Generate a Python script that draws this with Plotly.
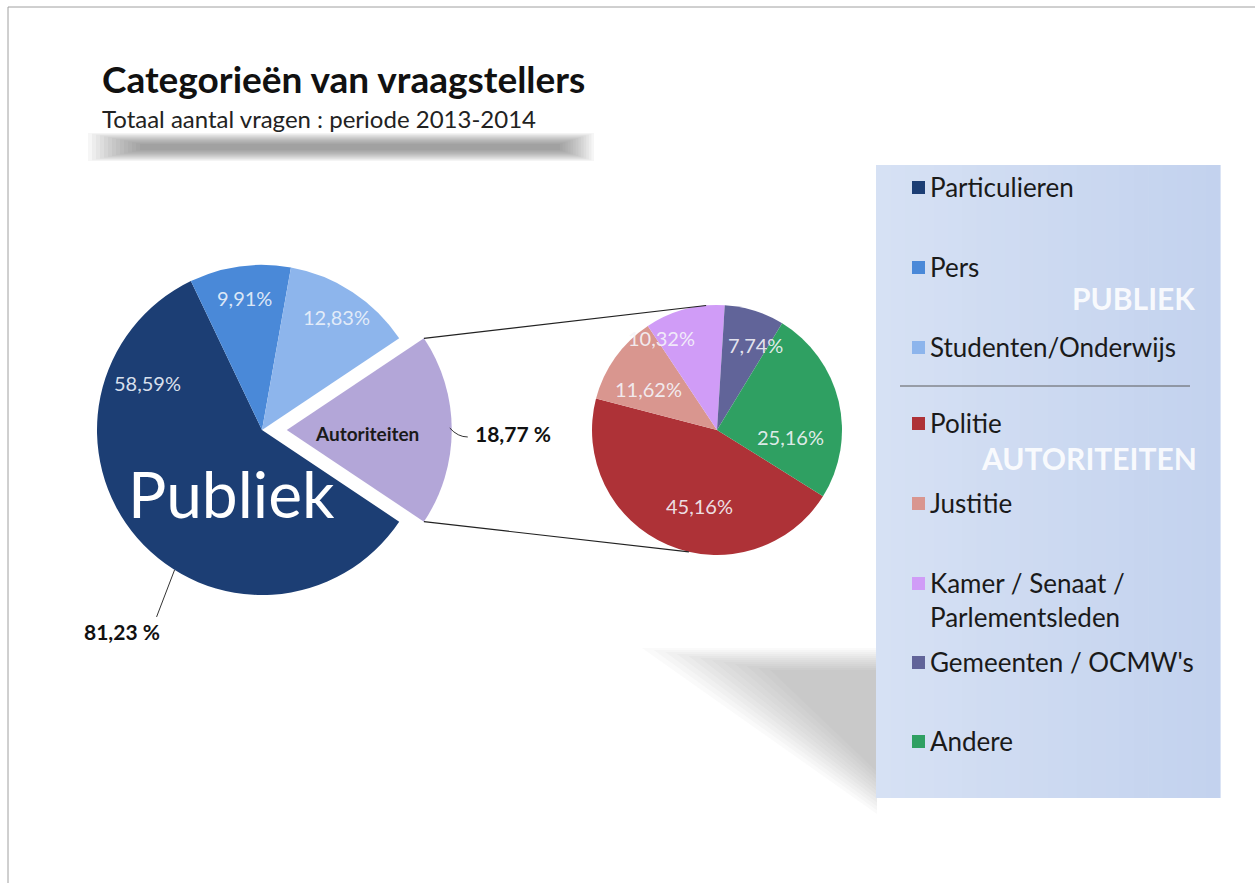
import math
import plotly.graph_objects as go

W, H = 1255, 883

# ---------------- data ----------------
main_labels = ["Particulieren", "Pers", "Studenten/Onderwijs", "Autoriteiten"]
main_values = [58.59, 9.91, 12.83, 18.77]
main_colors = ["#1C3E74", "#4A89D8", "#8DB5EC", "#B3A6D8"]

sub_labels = ["Politie", "Justitie", "Kamer / Senaat / Parlementsleden",
              "Gemeenten / OCMW's", "Andere"]
sub_values = [45.16, 11.62, 10.32, 7.74, 25.16]
sub_colors = ["#AE3237", "#D9968F", "#D09CF7", "#616499", "#2FA062"]

publiek_total = 81.23
autoriteiten_total = 18.77

title = "Categorieën van vraagstellers"
subtitle = "Totaal aantal vragen : periode 2013-2014"

legend_names = ["Particulieren", "Pers", "Studenten/Onderwijs",
                "Politie", "Justitie", "Kamer / Senaat /<br>Parlementsleden",
                "Gemeenten / OCMW's", "Andere"]
legend_colors = main_colors[:3] + sub_colors
group_names = ["PUBLIEK", "AUTORITEITEN"]

# ---------------- layout constants ----------------
FONT = "Lato, 'Open Sans', sans-serif"
L_CX, L_CY, L_R, L_PULL = 262, 430, 165, 0.15
R_CX, R_CY, R_R = 717, 430, 125


def X(px):
    return px / W


def Y(py):
    return 1 - py / H


def fmt(v, space=False):
    s = f"{v:.2f}".replace(".", ",")
    return s + (" %" if space else "%")


def domain(cx, cy, r, pull=0.0):
    half = r * (1 + pull)
    return dict(x=[X(cx - half), X(cx + half)], y=[Y(cy + half), Y(cy - half)])


def slice_angles(values, rotation):
    tot = sum(values)
    a = 90 - rotation
    out = []
    for v in values:
        b = a - v / tot * 360
        out.append((a, b))
        a = b
    return out


def pt(cx, cy, r, ang):
    return cx + r * math.cos(math.radians(ang)), cy - r * math.sin(math.radians(ang))


shapes = []
ann = []


def add_line(x0, y0, x1, y1, color, width):
    shapes.append(dict(type="line", xref="paper", yref="paper", x0=X(x0), y0=Y(y0),
                       x1=X(x1), y1=Y(y1), line=dict(color=color, width=width)))


def add_rect(x0, y0, x1, y1, color, opacity=1.0, layer="above"):
    shapes.append(dict(type="rect", xref="paper", yref="paper", x0=X(x0), y0=Y(y0),
                       x1=X(x1), y1=Y(y1), fillcolor=color, opacity=opacity,
                       line=dict(width=0), layer=layer))


def add_poly(points, color, opacity, layer="below"):
    path = "M " + " L ".join(f"{X(x):.5f} {Y(y):.5f}" for x, y in points) + " Z"
    shapes.append(dict(type="path", xref="paper", yref="paper", path=path,
                       fillcolor=color, opacity=opacity, line=dict(width=0), layer=layer))


def add_text(x, y, text, size, color, xanchor="center", bold=False, align="center"):
    ann.append(dict(xref="paper", yref="paper", x=X(x), y=Y(y),
                    text=f"<b>{text}</b>" if bold else text, showarrow=False,
                    xanchor=xanchor, yanchor="middle", align=align,
                    font=dict(family=FONT, size=size, color=color)))


def lerp(a, b, t):
    return a + (b - a) * t


# rotation so that the "Autoriteiten" slice is centred at 3 o'clock
main_rot = 90 + main_values[3] / sum(main_values) * 180
sub_rot = 122

fig = go.Figure()
fig.add_trace(go.Pie(
    labels=main_labels, values=main_values, sort=False, direction="clockwise",
    rotation=main_rot, pull=[0, 0, 0, L_PULL], textinfo="none",
    marker=dict(colors=main_colors, line=dict(width=0)),
    domain=domain(L_CX, L_CY, L_R, L_PULL), showlegend=False,
    hovertemplate="%{label}: %{value:.2f}%<extra></extra>"))
fig.add_trace(go.Pie(
    labels=sub_labels, values=sub_values, sort=False, direction="clockwise",
    rotation=sub_rot, textinfo="none",
    marker=dict(colors=sub_colors, line=dict(width=0)),
    domain=domain(R_CX, R_CY, R_R), showlegend=False,
    hovertemplate="%{label}: %{value:.2f}%<extra></extra>"))

# frame
add_line(8, 7, W, 7, "#A0A0A0", 1)
add_line(8, 7, 8, H, "#A0A0A0", 1)

# title shadow (soft blurred bar)
N = 14
for k in range(N):
    t = k / (N - 1)
    add_rect(lerp(88, 140, t), lerp(133, 144, t), lerp(594, 560, t), lerp(161, 150, t),
             "#555555", 0.055, "below")

# title
add_text(100, 78, title, 37, "#111111", "left", bold=True)
add_text(100, 119, subtitle, 24, "#222222", "left")

# legend shadow (soft triangle)
N = 12
for k in range(N):
    t = k / (N - 1)
    add_poly([(lerp(642, 770, t), lerp(648, 670, t)), (877, lerp(648, 670, t)),
              (877, lerp(814, 772, t))], "#666666", 0.034)

# legend panel with a soft horizontal gradient
NB = 24
x_left, x_right = 876, 1220
for k in range(NB):
    t = k / (NB - 1)
    r = round(lerp(214, 195, t))
    g = round(lerp(225, 210, t))
    b = round(lerp(244, 238, t))
    add_rect(lerp(x_left, x_right, k / NB), 165, lerp(x_left, x_right, (k + 1) / NB) + 0.6, 798,
             f"rgb({r},{g},{b})", 1.0, "below")
add_line(900, 386, 1190, 386, "#5A5A5A", 1)

leg_y = [187, 267, 347, 423, 503, 600, 662, 741]
for name, col, y in zip(legend_names, legend_colors, leg_y):
    sy = y if "<br>" not in name else y - 17
    add_rect(912, sy - 6, 925, sy + 7, col)
    add_text(928, y, name, 26, "#1A1A1A", "left", align="left")
add_text(1197, 298, group_names[0], 30, "rgba(255,255,255,0.88)", "right", bold=True)
add_text(1199, 458, group_names[1], 30, "rgba(255,255,255,0.88)", "right", bold=True)

# ---- labels on the main pie ----
m_ang = slice_angles(main_values, main_rot)
m_label_adj = [(-63, 0.75), (0, 0.81), (0, 0.82)]
for i in range(3):
    a0, a1 = m_ang[i]
    d, rf = m_label_adj[i]
    x, y = pt(L_CX, L_CY, L_R * rf, (a0 + a1) / 2 + d)
    add_text(x, y, fmt(main_values[i]), 20, "rgba(235,241,250,0.92)")

# exploded slice centre
a0, a1 = m_ang[3]
amid = (a0 + a1) / 2
pcx, pcy = pt(L_CX, L_CY, L_R * L_PULL, amid)
x, y = pt(pcx, pcy, L_R * 0.5, amid)
add_text(x - 2, y + 3, "Autoriteiten", 19, "#1A1A1A", bold=True)

# big "Publiek" text
add_text(231, 493, "Publiek", 64, "#FFFFFF")

# outside labels with leader lines
ex, ey = pt(pcx, pcy, L_R, amid)
shapes.append(dict(type="path", xref="paper", yref="paper",
                   path=(f"M {X(ex-2):.5f} {Y(ey-2):.5f} Q {X(ex+6):.5f} {Y(ey+7):.5f} "
                         f"{X(ex+16):.5f} {Y(ey+7):.5f}"),
                   line=dict(color="#333333", width=1)))
add_text(ex + 21, ey + 4, fmt(autoriteiten_total, True), 21, "#111111", "left", bold=True)
bx, by = pt(L_CX, L_CY, L_R, -122)
add_line(bx, by, bx - 18, by + 47, "#333333", 1)
add_text(bx - 53, by + 62, fmt(publiek_total, True), 21, "#111111", bold=True)

# connector lines between the pies
tx0, ty0 = pt(pcx, pcy, L_R, a0)
tx1, ty1 = pt(R_CX, R_CY, R_R, 95)
bx0, by0 = pt(pcx, pcy, L_R, a1)
bx1, by1 = pt(R_CX, R_CY, R_R, -103)
add_line(tx0, ty0, tx1, ty1, "#222222", 1.2)
add_line(bx0, by0, bx1, by1, "#222222", 1.2)

# ---- labels on the sub pie ----
s_ang = slice_angles(sub_values, sub_rot)
s_label_adj = [(10.5, 0.62), (4.8, 0.64), (16, 0.86), (-7, 0.75), (-19, 0.59)]
for i, v in enumerate(sub_values):
    a0, a1 = s_ang[i]
    d, rf = s_label_adj[i]
    x, y = pt(R_CX, R_CY, R_R * rf, (a0 + a1) / 2 + d)
    add_text(x, y, fmt(v), 20, "rgba(245,245,250,0.9)")

fig.update_layout(
    width=W, height=H, margin=dict(l=0, r=0, t=0, b=0),
    paper_bgcolor="white", plot_bgcolor="rgba(0,0,0,0)",
    shapes=shapes, annotations=ann, showlegend=False,
)
fig.write_html("out.html", config={"displayModeBar": False},
               post_script="document.body.style.margin='0px';")
